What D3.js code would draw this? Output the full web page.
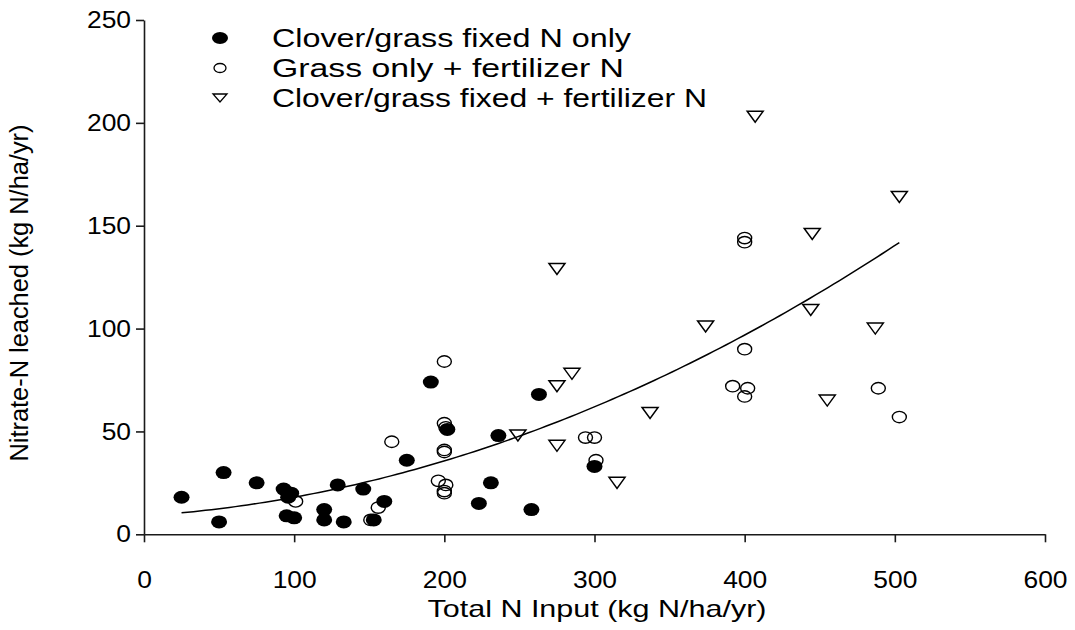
<!DOCTYPE html>
<html>
<head>
<meta charset="utf-8">
<script src="https://cdn.jsdelivr.net/npm/d3@7"></script>
<style>
  body { margin: 0; background: #fff; }
  svg { display: block; }
  text { font-family: "Liberation Sans", Arial, sans-serif; fill: #000; }
</style>
</head>
<body>
<svg id="chart" width="1075" height="630"></svg>
<script>
// Clover/grass fixed N only
const fixedOnlyX = [25, 50, 53, 75, 93, 98, 96, 95, 100, 120, 120, 129, 133, 146, 153, 160, 175, 191, 202, 236, 231, 223, 263, 258, 300];
const fixedOnlyY = [18, 6, 30, 25, 22, 20, 18, 9, 8, 12, 7, 24, 6, 22, 7, 16, 36, 74, 51, 48, 25, 15, 68, 12, 33];

// Grass only + fertilizer N
const grassFertX = [101, 151, 156, 165, 200, 200, 201, 200, 200, 196, 201, 200, 200, 294, 300, 301, 400, 400, 400, 392, 402, 400, 489, 503];
const grassFertY = [16, 7, 13, 45, 84, 54, 52, 41, 40, 26, 24, 21, 20, 47, 47, 36, 144, 142, 90, 72, 71, 67, 71, 57];

// Clover/grass fixed + fertilizer N
const fixedFertX = [249, 275, 285, 275, 275, 315, 337, 374, 407, 444, 445, 455, 487, 503];
const fixedFertY = [48, 129, 78, 72, 43, 25, 59, 101, 203, 109, 146, 65, 100, 164];

// Quadratic trend: y = c0 + c1*x + c2*x^2, drawn over the input range
const trendCoef = [8.98, 0.0473, 0.000431];
const trendRange = [25, 503];

const xTicks = [0, 100, 200, 300, 400, 500, 600];
const yTicks = [0, 50, 100, 150, 200, 250];

const legendLabels = ["Clover/grass fixed N only", "Grass only + fertilizer N", "Clover/grass fixed + fertilizer N"];

const svg = d3.select("#chart");

const x = d3.scaleLinear().domain([0, 600]).range([144, 1045]);
const y = d3.scaleLinear().domain([0, 250]).range([534.3, 20]);

const ink = "#1a1a1a";

// Axes
const xAxis = svg.append("g")
  .attr("transform", `translate(0,${y(0)})`)
  .call(d3.axisBottom(x).tickValues(xTicks).tickFormat(d3.format("d"))
    .tickSizeInner(8).tickSizeOuter(0).tickPadding(29));
const yAxis = svg.append("g")
  .attr("transform", `translate(${x(0)},0)`)
  .call(d3.axisLeft(y).tickValues(yTicks).tickFormat(d3.format("d"))
    .tickSizeInner(8).tickSizeOuter(0).tickPadding(5));

[xAxis, yAxis].forEach(g => {
  g.select(".domain").attr("stroke", ink).attr("stroke-width", 1.6);
  g.selectAll(".tick line").attr("stroke", ink).attr("stroke-width", 1.6);
  g.selectAll(".tick text").attr("font-size", 24).attr("fill", "#000")
    .style("font-family", '"Liberation Sans", Arial, sans-serif');
});
// Widen tick labels horizontally
const tickSx = 1.1;
yAxis.selectAll(".tick text").each(function () {
  const t = d3.select(this);
  const xv = +t.attr("x");
  t.attr("x", xv / tickSx).attr("transform", `scale(${tickSx},1)`);
});
xAxis.selectAll(".tick text").attr("transform", `scale(${tickSx},1)`);

// Axis titles
svg.append("text")
  .attr("x", 597).attr("y", 617)
  .attr("text-anchor", "middle")
  .attr("font-size", 24)
  .attr("textLength", 339).attr("lengthAdjust", "spacingAndGlyphs")
  .text("Total N Input (kg N/ha/yr)");

svg.append("text")
  .attr("transform", "translate(28,293) rotate(-90)")
  .attr("text-anchor", "middle")
  .attr("font-size", 25)
  .attr("textLength", 337).attr("lengthAdjust", "spacingAndGlyphs")
  .text("Nitrate-N leached (kg N/ha/yr)");

// Trend curve
const curvePts = d3.range(trendRange[0], trendRange[1] + 0.001, (trendRange[1] - trendRange[0]) / 120)
  .map(v => [v, trendCoef[0] + trendCoef[1] * v + trendCoef[2] * v * v]);
svg.append("path")
  .datum(curvePts)
  .attr("fill", "none").attr("stroke", "#000").attr("stroke-width", 1.5)
  .attr("d", d3.line().x(d => x(d[0])).y(d => y(d[1])));

// Marker helpers
function triPath(cx, cy, w, h) {
  return `M${cx - w / 2},${cy - h / 2}L${cx + w / 2},${cy - h / 2}L${cx},${cy + h / 2}Z`;
}
const pts = (xs, ys) => xs.map((v, i) => ({ x: v, y: ys[i] }));

// Clover/grass fixed + fertilizer N (open triangles)
svg.append("g").selectAll("path").data(pts(fixedFertX, fixedFertY)).join("path")
  .attr("d", d => triPath(x(d.x), y(d.y), 16, 11))
  .attr("fill", "none").attr("stroke", "#000").attr("stroke-width", 1.5)
  .attr("stroke-linejoin", "miter");

// Grass only + fertilizer N (open circles)
svg.append("g").selectAll("ellipse").data(pts(grassFertX, grassFertY)).join("ellipse")
  .attr("cx", d => x(d.x)).attr("cy", d => y(d.y))
  .attr("rx", 7).attr("ry", 5.7)
  .attr("fill", "none").attr("stroke", "#000").attr("stroke-width", 1.4);

// Clover/grass fixed N only (filled circles)
svg.append("g").selectAll("ellipse").data(pts(fixedOnlyX, fixedOnlyY)).join("ellipse")
  .attr("cx", d => x(d.x)).attr("cy", d => y(d.y))
  .attr("rx", 8).attr("ry", 6.5)
  .attr("fill", "#000");

// Legend
const legend = svg.append("g");
const rowsY = [38, 68, 98];
const legendLen = [359, 352, 435];
legend.append("ellipse").attr("cx", 220).attr("cy", rowsY[0]).attr("rx", 8).attr("ry", 6).attr("fill", "#000");
legend.append("ellipse").attr("cx", 220).attr("cy", rowsY[1]).attr("rx", 6).attr("ry", 4.5)
  .attr("fill", "none").attr("stroke", "#000").attr("stroke-width", 1.3);
legend.append("path").attr("d", triPath(220, rowsY[2], 14, 8))
  .attr("fill", "none").attr("stroke", "#000").attr("stroke-width", 1.3);
legend.selectAll("text").data(legendLabels).join("text")
  .attr("x", 272).attr("y", (d, i) => rowsY[i]).attr("dy", "0.36em")
  .attr("font-size", 25)
  .attr("textLength", (d, i) => legendLen[i]).attr("lengthAdjust", "spacingAndGlyphs")
  .text(d => d);
</script>
</body>
</html>
